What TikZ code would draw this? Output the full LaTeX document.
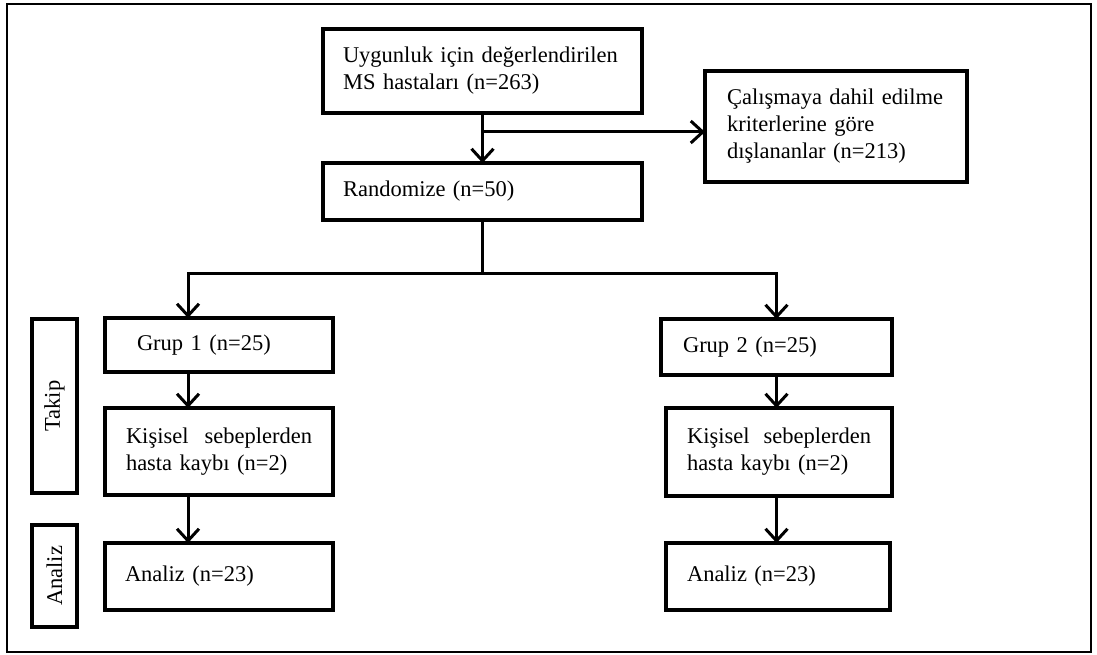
\documentclass[tikz,border=0pt]{standalone}
\usepackage{fontspec}
\setmainfont{Liberation Serif}
\usetikzlibrary{arrows.meta,positioning,calc}

\begin{document}
\begin{tikzpicture}[
    x=1pt, y=-1pt,
    box/.style={rectangle, draw, line width=3.5pt, outer sep=0pt, anchor=north west, align=left, inner xsep=20pt, inner ysep=0pt, font=\fontsize{22.5}{27}\selectfont},
    sidebox/.style={rectangle, draw, line width=4pt, outer sep=0pt, anchor=north west, inner sep=0pt, minimum width=45pt, font=\fontsize{22.5}{27}\selectfont},
    link/.style={line width=3pt},
    arrow/.style={link, -{Straight Barb[length=12pt,width=22pt,line width=3pt]}},
]
    \useasboundingbox (0,0) rectangle (1097,655);
    % Frame
    \draw[line width=1.8pt] (7,4) rectangle (1091,652);

    % Screening
    \node[box, text width=279pt, minimum height=84pt] (screen) at (323,29) {
        Uygunluk için değerlendirilen\\
        MS hastaları (n=263)
    };
    \node[box, text width=279pt, minimum height=57pt] (random) at (323,163) {Randomize (n=50)};

    % Excluded
    \node[box, line width=4pt, inner xsep=22pt, text width=218pt, minimum height=111pt] (exclude) at (705,71) {
        Çalışmaya dahil edilme\\
        kriterlerine göre\\
        dışlananlar (n=213)
    };

    % Group 1
    \node[box, inner xsep=32pt, text width=164pt, minimum height=54pt] (grpA) at (105,318) {Grup 1 (n=25)};
    \node[box, inner xsep=21pt, text width=186pt, minimum height=87pt] (lossA) at (105,408) {
        Kişisel\hfill sebeplerden\\
        hasta kaybı (n=2)
    };
    \node[box, text width=188pt, minimum height=67pt] (anA) at (105,543) {Analiz (n=23)};

    % Group 2
    \node[box, inner xsep=22pt, text width=187pt, minimum height=56pt] (grpB) at (661,319) {Grup 2 (n=25)};
    \node[box, inner xsep=21pt, text width=184pt, minimum height=88pt] (lossB) at (666,408) {
        Kişisel\hfill sebeplerden\\
        hasta kaybı (n=2)
    };
    \node[box, inner xsep=21pt, text width=182pt, minimum height=67pt] (anB) at (666,543) {Analiz (n=23)};

    % Stage labels
    \node[sidebox, minimum height=174pt] (follow) at (32,319) {\rotatebox{90}{Takip}};
    \node[sidebox, minimum height=102pt] (analysis) at (32,525) {\rotatebox{90}{Analiz}};

    % Arrows
    \coordinate (split1) at ($(screen.south)+(0,19)$);
    \coordinate (split2) at ($(random.south)+(0,53)$);
    \draw[arrow] (screen.south) -- (random.north);
    \draw[arrow] (split1) -- (split1 -| exclude.west);
    \draw[link] (random.south) -- (split2);
    \draw[arrow] (split2) -| ([xshift=-31pt]grpA.north);
    \draw[arrow] (split2) -| (grpB.north);
    \draw[arrow] ([xshift=-31pt]grpA.south) -- ([xshift=-31pt]lossA.north);
    \draw[arrow] ([xshift=-31pt]lossA.south) -- ([xshift=-31pt]anA.north);
    \draw[arrow] (grpB.south) -- (grpB.south |- lossB.north);
    \draw[arrow] (grpB.south |- lossB.south) -- (grpB.south |- anB.north);
\end{tikzpicture}
\end{document}
